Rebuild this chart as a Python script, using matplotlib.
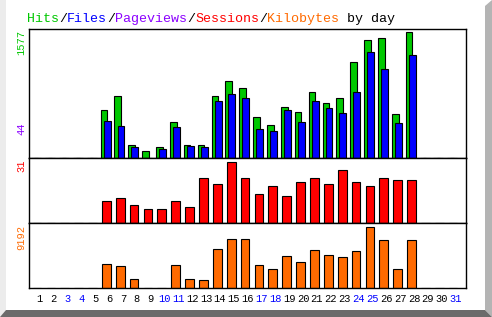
import numpy as np
import matplotlib
matplotlib.use('Agg')
import matplotlib.pyplot as plt
from matplotlib.patches import Polygon

# daily values (days 1..31, zero where no data)
days = np.arange(1, 32)
hits = [0, 0, 0, 0, 0, 608, 772, 168, 92, 143, 457, 168, 168, 784, 960, 872, 520, 419,
        646, 583, 822, 684, 759, 1200, 1476, 1502, 558, 1577, 0, 0, 0]
files = [0, 0, 0, 0, 0, 461, 407, 143, 0, 109, 394, 155, 143, 721, 797, 759, 369, 344,
         596, 457, 709, 633, 570, 822, 1325, 1111, 445, 1288, 0, 0, 0]
visits = [0, 0, 0, 0, 0, 11, 13, 9, 7, 7, 11, 8, 23, 20, 31, 23, 15, 19,
          14, 21, 23, 20, 27, 21, 19, 23, 22, 22, 0, 0, 0]
kbytes = [0, 0, 0, 0, 0, 3586, 3283, 1313, 0, 0, 3434, 1313, 1162, 5859, 7374, 7374, 3434, 2828,
          4798, 3889, 5758, 4950, 4647, 5556, 9192, 7222, 2828, 7222, 0, 0, 0]
max_pages = 44
weekend = [3, 4, 10, 11, 17, 18, 24, 25, 31]

W, H = 492, 317
fig = plt.figure(figsize=(W / 100, H / 100), dpi=100)
fig.patch.set_facecolor('white')

mono = 'Liberation Mono'
c_green, c_blue, c_purple = '#00c800', '#0000ff', '#8c00ff'
c_red, c_orange = '#ff0000', '#ff6a00'


def px_axes(x0, y0, x1, y1):
    return fig.add_axes([x0 / W, 1 - y1 / H, (x1 - x0) / W, (y1 - y0) / H])


left, right = 28.5, 465.5
ax1 = px_axes(left, 28.5, right, 158)
ax2 = px_axes(left, 158, right, 223)
ax3 = px_axes(left, 223, right, 288)

xlo, xhi = 0.2, 31.71
day_px = 13.87

ax1.bar(days - 0.6, hits, width=0.48, align='edge', color=c_green, edgecolor='black', linewidth=0.8)
ax1.bar(days - 0.38, files, width=0.5, align='edge', color=c_blue, edgecolor='black', linewidth=0.8)
ax2.bar(days - 0.5, visits, width=0.63, align='edge', color=c_red, edgecolor='black', linewidth=0.8)
ax3.bar(days - 0.5, kbytes, width=0.63, align='edge', color=c_orange, edgecolor='black', linewidth=0.8)

ax1.set_ylim(0, max(hits) * 129.5 / 125.7)
ax2.set_ylim(0, max(visits) * 65 / 60.7)
ax3.set_ylim(0, max(kbytes) * 65 / 60.7)

for ax in (ax1, ax2, ax3):
    ax.set_xlim(xlo, xhi)
    ax.set_yticks([])
    ax.set_xticks([])
    for s in ax.spines.values():
        s.set_linewidth(1.0)
        s.set_color('black')

ax3.set_xticks(days)
ax3.set_xticklabels([str(d) for d in days], fontfamily=mono, fontsize=7.5)
ax3.tick_params(axis='x', length=0, pad=4)
for lab, d in zip(ax3.get_xticklabels(), days):
    lab.set_color(c_blue if d in weekend else 'black')

# title, coloured word by word
parts = [('Hits', c_green), ('/', 'black'), ('Files', c_blue), ('/', 'black'),
         ('Pageviews', c_purple), ('/', 'black'), ('Sessions', c_red), ('/', 'black'),
         ('Kilobytes', c_orange), (' by day', 'black')]
x = 27
for txt, col in parts:
    fig.text(x / W, 1 - 21.7 / H, txt, color=col, fontfamily=mono, fontsize=9.6,
             ha='left', va='baseline')
    x += 8 * len(txt)

# max labels on the left
def side_label(txt, col, y, va='top'):
    fig.text(21 / W, 1 - y / H, txt, color=col, fontfamily=mono, fontsize=7.5,
             rotation=90, ha='center', va=va)

side_label(str(max(hits)), c_green, 30)
side_label(str(max_pages), c_purple, 129, va='center')
side_label(str(max(visits)), c_red, 160)
side_label(str(max(kbytes)), c_orange, 225)

# 3d border
def fig_poly(pts, col):
    fig.patches.append(Polygon([(a / W, 1 - b / H) for a, b in pts], closed=True,
                               transform=fig.transFigure, facecolor=col, edgecolor='none'))

fig_poly([(0, 0), (6, 0), (6, 310), (0, 317)], '#ececec')
fig_poly([(485, 6), (492, 0), (492, 317), (485, 310)], '#b4b4b4')
fig_poly([(0, 317), (6, 310), (485, 310), (492, 317)], '#6b6b6b')

fig.savefig('out.png', dpi=100, facecolor='white')
